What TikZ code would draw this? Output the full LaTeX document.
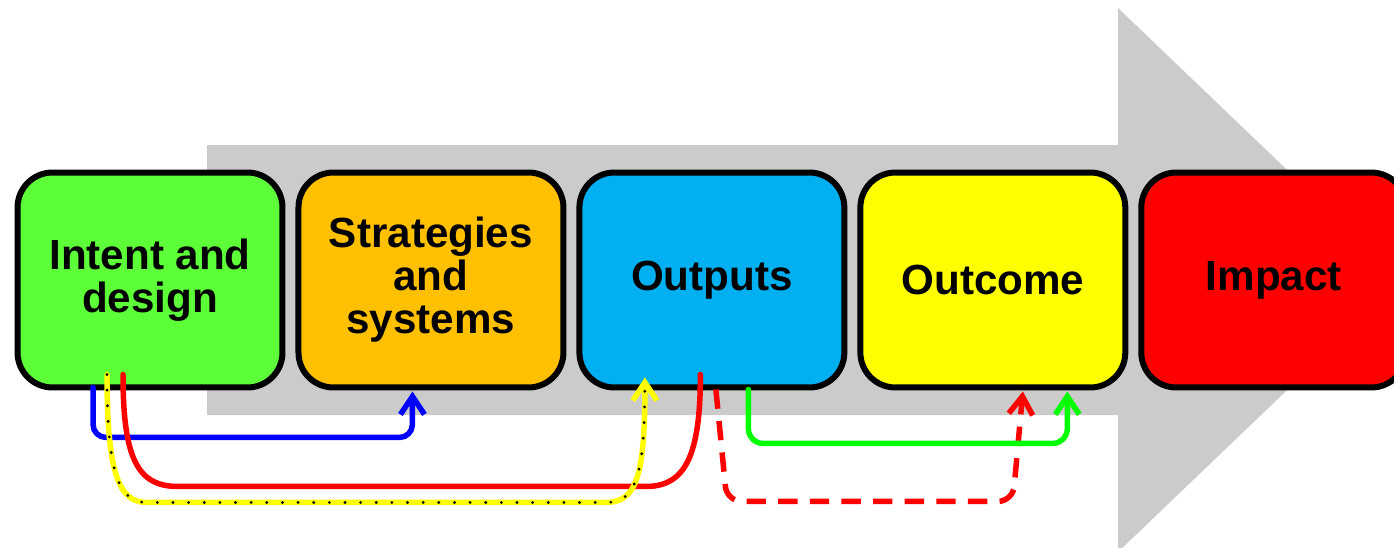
\documentclass[tikz,border=0pt]{standalone}
\usepackage{fontspec}
\setmainfont{Liberation Sans}
\usetikzlibrary{positioning, calc, arrows.meta}

\definecolor{stagegreen}{RGB}{92,255,56}
\definecolor{stageorange}{RGB}{255,192,0}
\definecolor{stageblue}{RGB}{0,176,240}
\definecolor{stageyellow}{RGB}{255,255,0}
\definecolor{stagered}{RGB}{255,0,0}
\definecolor{arrowgray}{RGB}{203,203,203}
\definecolor{linkblue}{RGB}{0,0,255}
\definecolor{linkred}{RGB}{255,0,0}
\definecolor{linkyellow}{RGB}{255,255,0}
\definecolor{linkgreen}{RGB}{0,255,0}

\begin{document}
\begin{tikzpicture}[x=0.02cm, y=-0.02cm,
    stage/.style={rectangle, rounded corners=0.7cm, draw=black, line width=0.12cm,
      minimum width=5.3cm, minimum height=4.3cm, inner sep=0pt, outer sep=0pt,
      align=center, font=\bfseries\fontsize{24}{24.5}\selectfont},
    link/.style={line width=0.11cm, line cap=round, line join=round,
      -{Straight Barb[length=3.6mm, width=4.8mm]}},
    dots/.style={postaction={draw=black, -, line width=1.8pt, line cap=round,
      dash pattern=on 0pt off 8.9pt}}]
  \clip (0,0) rectangle (1394,548);
  % big arrow behind the stages
  \fill[arrowgray] (207,145) -- (1118,145) -- (1118,8) -- (1402,280)
    -- (1118,552) -- (1118,415) -- (207,415) -- cycle;

  \node[stage, fill=stagegreen] (intent) at (150,280) {Intent and\\design};
  \node[stage, fill=stageorange, right=0.32cm of intent] (strategies) {Strategies\\and\\systems};
  \node[stage, fill=stageblue, right=0.32cm of strategies] (outputs) {Outputs};
  \node[stage, fill=stageyellow, right=0.32cm of outputs] (outcome) {Outcome};
  \node[stage, fill=stagered, right=0.32cm of outcome] (impact) {Impact};

  \draw[link, linkblue, rounded corners=0.26cm] ($(intent.south)+(-57,0)$)
    -- ++(0,50) -| ($(strategies.south)+(-18.5,4)$);
  \draw[link, linkred, -] ($(intent.south)+(-27,-13)$)
    .. controls +(0,85) and +(-40,0) .. ++(55,112)
    -- ($(outputs.south)+(-66,99)$)
    .. controls +(40,0) and +(0,80) .. ($(outputs.south)+(-11.5,-13)$);
  \draw[link, linkyellow, dots] ($(intent.south)+(-43,-13)$)
    .. controls +(0,100) and +(-28,0) .. ++(40,128)
    -- ($(outputs.south)+(-106,115)$)
    .. controls +(32,0) and +(0,95) .. ($(outputs.south)+(-67,-10)$);
  \draw[link, linkred, line cap=butt, dash pattern=on 11pt off 7pt, rounded corners=0.3cm]
    ($(outputs.south)+(4,2)$) -- ($(outputs.south)+(15,114)$)
    -- ($(outcome.south)+(20,114)$) -- ($(outcome.south)+(30,4)$);
  \draw[link, linkgreen, rounded corners=0.3cm] ($(outputs.south)+(36.5,2)$)
    -- ++(0,54) -| ($(outcome.south)+(74.5,4)$);
\end{tikzpicture}
\end{document}
